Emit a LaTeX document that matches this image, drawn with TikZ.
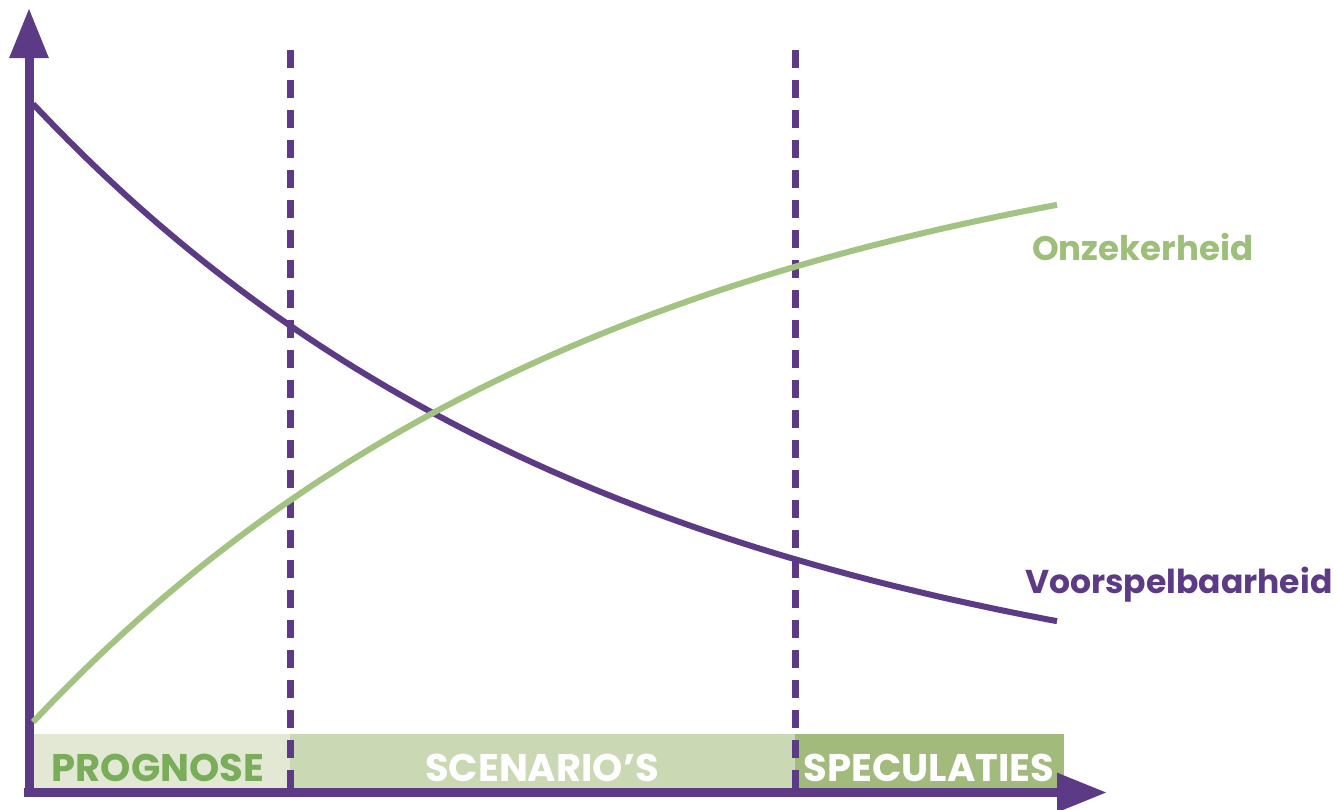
\documentclass[tikz,border=0pt]{standalone}
\usepackage{fontspec}
\setmainfont{Poppins}
\usetikzlibrary{arrows.meta}
\definecolor{paars}{HTML}{5C3A86}
\definecolor{groen}{HTML}{A3C382}
\definecolor{tekstgroen}{HTML}{9DBF7A}
\definecolor{donkergroen}{HTML}{7AAD5A}
\definecolor{band1}{HTML}{E2E8D4}
\definecolor{band2}{HTML}{CBD8B4}
\definecolor{band3}{HTML}{A2BB7C}

\begin{document}
\begin{tikzpicture}[x=1pt,y=-1pt,
    pijl/.style={paars,line width=9pt,-{Triangle[length=50pt,width=37pt]}},
    grens/.style={paars,line width=7pt,dash pattern=on 18pt off 12pt},
    kromme/.style={line width=6pt},
    fase/.style={font=\bfseries\fontsize{38.5}{38.5}\selectfont,anchor=base,inner sep=0pt},
    bijschrift/.style={font=\bfseries\fontsize{#1}{#1}\selectfont,anchor=base west,inner sep=0pt},
    bijschrift/.default=34]
    \useasboundingbox (0,0) rectangle (1337,809);
    \foreach \a/\b/\kleur in {29/290/band1,290/795/band2,795/1064/band3}
        \fill[\kleur] (\a,734) rectangle (\b,790);
    \node[fase,donkergroen] (prognose) at (158,781) {PROGNOSE};
    \node[fase,white] (scenarios) at (542,781) {SCENARIO’S};
    \node[fase,white] (speculaties) at (929,781) {SPECULATIES};
    \foreach \x in {290,795}
        \draw[grens] (\x,50) -- (\x,790);
    \coordinate (oorsprong) at (24,792.5);
    \coordinate (xtop) at (1107,792.5);
    \coordinate (ytop) at (29,8);
    \draw[pijl] (oorsprong) -- (xtop);
    \draw[pijl] (29,797) -- (ytop);
    \draw[kromme,paars] plot[domain=33:1057,samples=90] (\x,{104+628*(1-exp(-0.0017*(\x-33)))});
    \draw[kromme,groen] plot[domain=33:1057,samples=90] (\x,{722-628*(1-exp(-0.0017*(\x-33)))});
    \node[bijschrift,tekstgroen] (onzekerheid) at (1032,260) {Onzekerheid};
    \node[bijschrift=33,paars] (voorspelbaarheid) at (1025,593) {Voorspelbaarheid};
\end{tikzpicture}
\end{document}
